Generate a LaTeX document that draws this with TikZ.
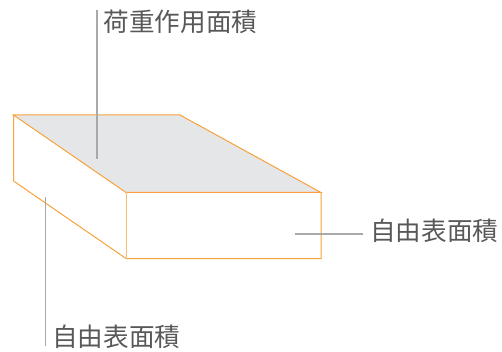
\documentclass[tikz,border=0pt]{standalone}
\usepackage{fontspec}
\newfontfamily\jpfont{Noto Sans CJK JP}
\definecolor{edgeorange}{HTML}{F7A23B}
\definecolor{facegray}{HTML}{E5E6E8}
\definecolor{leadgray}{HTML}{A9A9A9}
\definecolor{labelgray}{HTML}{585858}
\tikzset{
	edge/.style={draw=edgeorange, line width=1pt, line join=miter},
	lead/.style={draw=leadgray, line width=1.2pt},
	lab/.style={anchor=west, inner sep=0pt, text=labelgray, font=\jpfont\fontsize{25.6}{25.6}\selectfont},
}

\begin{document}
\begin{tikzpicture}[x=1pt, y=-1pt]
		%%%%% START %%%%%
		\useasboundingbox (0, 0) rectangle (502, 352);
		
		\coordinate (topA) at (13.5, 115);
		\coordinate (topB) at (180, 115);
		\coordinate (topC) at (321, 192.5);
		\coordinate (topD) at (126, 192.5);
		\coordinate (botA) at (13.5, 181);
		\coordinate (botC) at (321, 258.5);
		\coordinate (botD) at (126, 258.5);
		
		\fill[facegray] (topA) -- (topB) -- (topC) -- (topD) -- cycle;
		\draw[edge] (topA) -- (topB) -- (topC) -- (topD) -- cycle;
		\draw[edge] (topA) -- (botA) -- (botD) -- (botC) -- (topC);
		\draw[edge, draw=edgeorange!70] (topD) -- (botD);
		
		\node[lab] (loadarea) at (103.5, 22) {荷重作用面積};
		\node[lab] (freeright) at (370, 231) {自由表面積};
		\node[lab] (freebottom) at (52, 337) {自由表面積};
		
		\coordinate (loadtop) at (97, 10);
		\coordinate (loadend) at (97, 159);
		\coordinate (leftend) at (45.5, 197);
		\coordinate (lefttop) at (45.5, 346);
		\coordinate (rightend) at (295, 234);
		\coordinate (rightout) at (363, 234);
		
		\draw[lead] (loadtop) -- (loadend);
		\draw[lead] (lefttop) -- (leftend);
		\draw[lead] (rightout) -- (rightend);
		%%%%% END %%%%%
	\end{tikzpicture}
\end{document}
